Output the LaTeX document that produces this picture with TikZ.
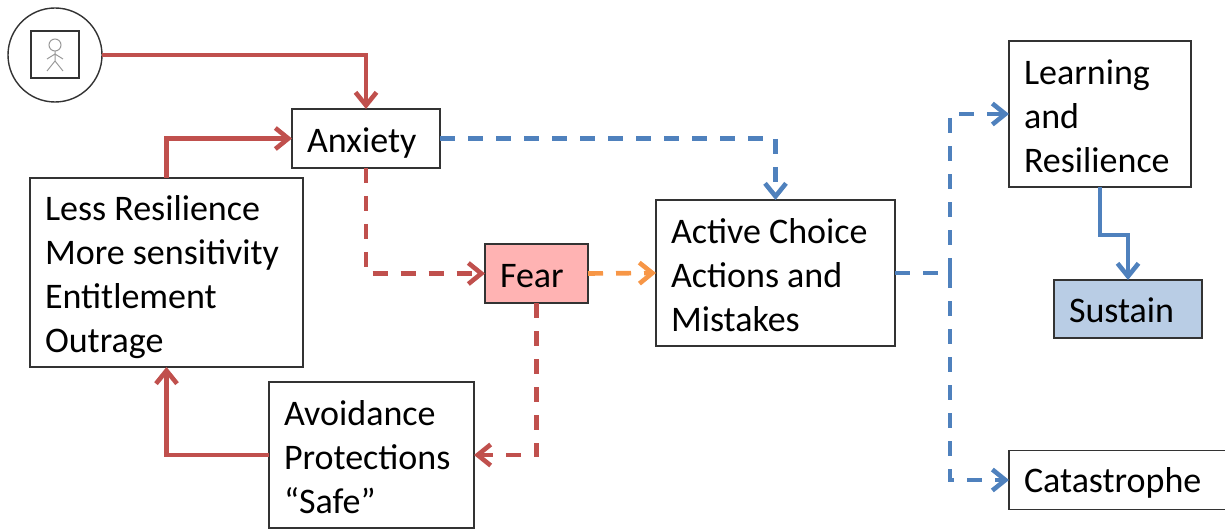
\documentclass[tikz,border=0pt]{standalone}
\usepackage{fontspec}
\setmainfont{Carlito}
\usetikzlibrary{arrows.meta,calc}
\definecolor{redl}{HTML}{C0504D}
\definecolor{bluel}{HTML}{4F81BD}
\definecolor{orangel}{HTML}{F79646}
\definecolor{frame}{HTML}{333333}
\definecolor{fearc}{HTML}{FFB3B3}
\definecolor{sustc}{HTML}{B9CDE5}
\tikzset{
  x=1pt,y=-1pt,
  boxn/.style={draw=frame,line width=1.4pt,fill=white,inner xsep=15pt,inner ysep=0pt,outer sep=0pt,
    font=\fontsize{36}{44}\selectfont,align=flush left},
  drop/.style={execute at begin node={\rule{0pt}{#1}}},
  conn/.style={line width=4.6pt,line join=miter,-{Straight Barb[length=13pt,width=21pt,line width=4.6pt]}},
  dashy/.style={dash pattern=on 15pt off 13pt},
  rsolid/.style={conn,draw=redl},
  rdash/.style={conn,draw=redl,dashy},
  bsolid/.style={conn,draw=bluel},
  bdash/.style={conn,draw=bluel,dashy},
  odash/.style={conn,draw=orangel,dashy},
  bplain/.style={line width=4.6pt,draw=bluel,dashy},
  stick/.style={draw=black!40,line width=1pt},
}
\begin{document}
\begin{tikzpicture}
\useasboundingbox (0,0) rectangle (1225,529);
\node[draw=frame,line width=1.4pt,circle,minimum size=94pt,inner sep=0pt,outer sep=0pt] (person) at (55,55) {};
\node[draw=frame,line width=1.6pt,minimum width=48pt,minimum height=47pt,inner sep=0pt] (sq) at (55,54.5) {};
\draw[stick] (55,45) circle (6pt);
\draw[stick] (55,51) -- (55,61) (47,59) -- (55,54) -- (63,59) (47,71) -- (55,61) -- (63,71);
\node[boxn,text width=118pt,minimum height=59pt,drop=33pt] (anx) at (366,138.5) {Anxiety};
\node[boxn,text width=243pt,minimum height=189pt,drop=34pt] (less) at (166.5,272.5) {Less Resilience\\More sensitivity\\Entitlement\\Outrage};
\node[boxn,fill=fearc,text width=73pt,minimum height=59pt,drop=28pt] (fear) at (536.5,273.5) {Fear};
\node[boxn,text width=209pt,minimum height=146pt,drop=29pt] (act) at (775.5,273) {Active Choice\\Actions and\\Mistakes};
\node[boxn,text width=175pt,minimum height=146pt,drop=29pt] (avoid) at (371.5,455) {Avoidance\\Protections\\“Safe”};
\node[boxn,text width=152pt,minimum height=146pt,drop=29pt] (learn) at (1100,114) {Learning\\and\\Resilience};
\node[boxn,fill=sustc,text width=118pt,minimum height=58pt,drop=28pt] (sust) at (1128,309) {Sustain};
\node[boxn,text width=191pt,minimum height=59pt,drop=30pt] (cat) at (1119.5,480) {Catastrophe};
\coordinate (jn) at (950,273);
\draw[rsolid] (person.east) -| (anx.north);
\draw[rsolid] (less.north) |- (anx.west);
\draw[rdash] (anx.south) |- (fear.west);
\draw[odash] (fear.east) -- (act.west);
\draw[bdash] (anx.east) -| (act.north);
\draw[rdash] (fear.south) |- (avoid.east);
\draw[rsolid] (avoid.west) -| (less.south);
\draw[bplain] (act.east) -- (jn);
\draw[bdash] (jn) |- (learn.west);
\draw[bdash] (jn) |- (cat.west);
\draw[bsolid] (learn.south) -- ++(0,48) -| (sust.north);
\end{tikzpicture}
\end{document}
